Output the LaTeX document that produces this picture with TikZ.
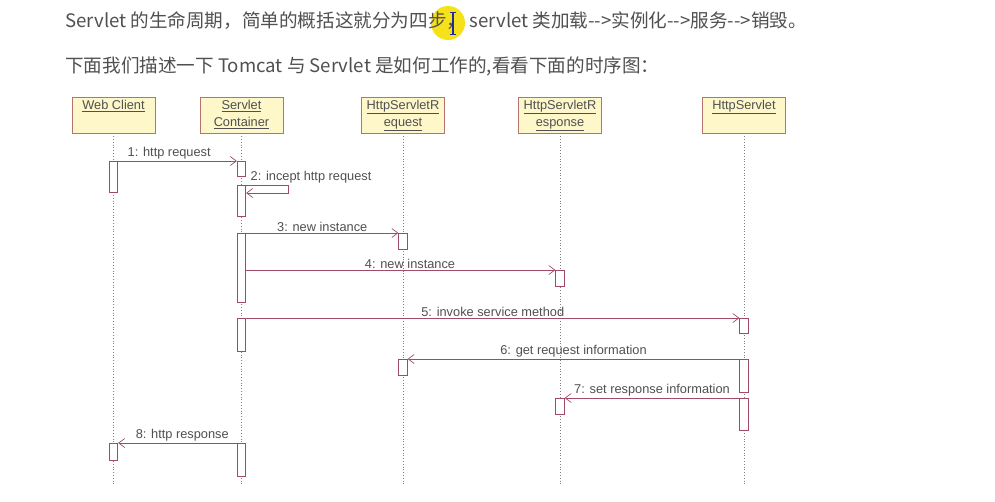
\documentclass[tikz,border=0pt]{standalone}
\usepackage{fontspec}
\setmainfont{Liberation Sans}
\newfontfamily\cjkfont{Noto Sans CJK SC}
\usetikzlibrary{arrows.meta}
\definecolor{umlline}{HTML}{A04A6A}
\definecolor{umlbox}{HTML}{B5736E}
\definecolor{umlfill}{HTML}{FDF7CA}
\definecolor{txtgray}{HTML}{505050}
\definecolor{marker}{HTML}{F6E21A}
\definecolor{beam}{HTML}{1F2E9C}
\newcommand{\objtext}[1]{\parbox[c][30pt][t]{78pt}{\centering #1}}
\tikzset{
  obj/.style={rectangle, draw=umlbox, fill=umlfill, line width=0.8pt, inner sep=2.5pt, minimum width=81pt, minimum height=36pt, font=\fontsize{12.8}{17}\selectfont, text=txtgray},
  act/.style={rectangle, draw=umlline, fill=white, line width=0.7pt, inner sep=0pt, minimum width=8.5pt, anchor=north},
  life/.style={draw=gray, line width=0.8pt, dotted},
  msg/.style={draw=umlline, line width=0.7pt, -{Straight Barb[length=6pt,width=9pt]}},
  msgtext/.style={font=\fontsize{12.8}{14}\selectfont, text=txtgray, inner sep=1.5pt},
  intro/.style={anchor=base west, inner sep=0pt, font=\cjkfont\fontsize{18.6}{20}\selectfont, text=txtgray}
}
\begin{document}
\begin{tikzpicture}[x=1pt,y=-1pt]
\useasboundingbox (0,0) rectangle (995,501);
\fill[white] (0,0) rectangle (995,501);
\fill[marker] (448,23) circle (17pt);
\node[intro] (line1) at (65,27) {Servlet 的生命周期，简单的概括这就分为四步， servlet 类加载-{}->实例化-{}->服务-{}->销毁。};
\node[intro] (line2) at (65,72) {下面我们描述一下 Tomcat 与 Servlet 是如何工作的,看看下面的时序图：};
\draw[beam, line width=1.4pt] (453,13) -- (453,34);
\draw[beam, line width=1pt] (450,12.5) -- (456,12.5) (450,34.5) -- (456,34.5);

% objects
\node[obj] (wc) at (113.5,115) {\objtext{\underline{Web Client}}};
\node[obj] (sc) at (241.5,115) {\objtext{\underline{Servlet}\\\underline{Container}}};
\node[obj] (req) at (403,115) {\objtext{\underline{HttpServletR}\\\underline{equest}}};
\node[obj] (resp) at (560,115) {\objtext{\underline{HttpServletR}\\\underline{esponse}}};
\node[obj] (hs) at (744,115) {\objtext{\underline{HttpServlet}}};
\foreach \o in {wc,sc,req,resp,hs}
  \draw[life] (\o.south) -- ++(0,352);

% activations
\node[act, minimum height=31pt] (w1) at (113.5,161) {};
\node[act, minimum height=15pt] (s1) at (241.5,161) {};
\node[act, minimum height=31pt] (s2) at (241.5,185) {};
\node[act, minimum height=69pt] (s3) at (241.5,233) {};
\node[act, minimum height=16pt] (q1) at (403,233) {};
\node[act, minimum height=16pt] (p1) at (560,270) {};
\node[act, minimum height=33pt] (s4) at (241.5,318) {};
\node[act, minimum height=15pt] (h1) at (744,318) {};
\node[act, minimum height=33pt] (h2) at (744,359) {};
\node[act, minimum height=16pt] (q2) at (403,359) {};
\node[act, minimum height=32pt] (h3) at (744,398) {};
\node[act, minimum height=16pt] (p2) at (560,398) {};
\node[act, minimum height=33pt] (s5) at (241.5,443) {};
\node[act, minimum height=17pt] (w2) at (113.5,443) {};

% messages
\draw[msg] (w1.north east) -- node[msgtext, pos=0.43, above] {1: http request} (s1.north west);
\draw[msg] (s2.north east) -- ++(42,0) |- ([yshift=-8pt]s2.north east);
\node[msgtext, anchor=west] (m2) at (249,177) {2: incept http request};
\draw[msg] (s3.north east) -- node[msgtext, midway, above] {3: new instance} (q1.north west);
\draw[msg] (s3.north east |- p1.north) -- node[msgtext, pos=0.53, above] {4: new instance} (p1.north west);
\draw[msg] (s4.north east) -- node[msgtext, midway, above] {5: invoke service method} (h1.north west);
\draw[msg] (h2.north west) -- node[msgtext, midway, above] {6: get request information} (q2.north east);
\draw[msg] (h3.north west) -- node[msgtext, midway, above] {7: set response information} (p2.north east);
\draw[msg] (s5.north west) -- node[msgtext, pos=0.46, above] {8: http response} (w2.north east);
\end{tikzpicture}
\end{document}
